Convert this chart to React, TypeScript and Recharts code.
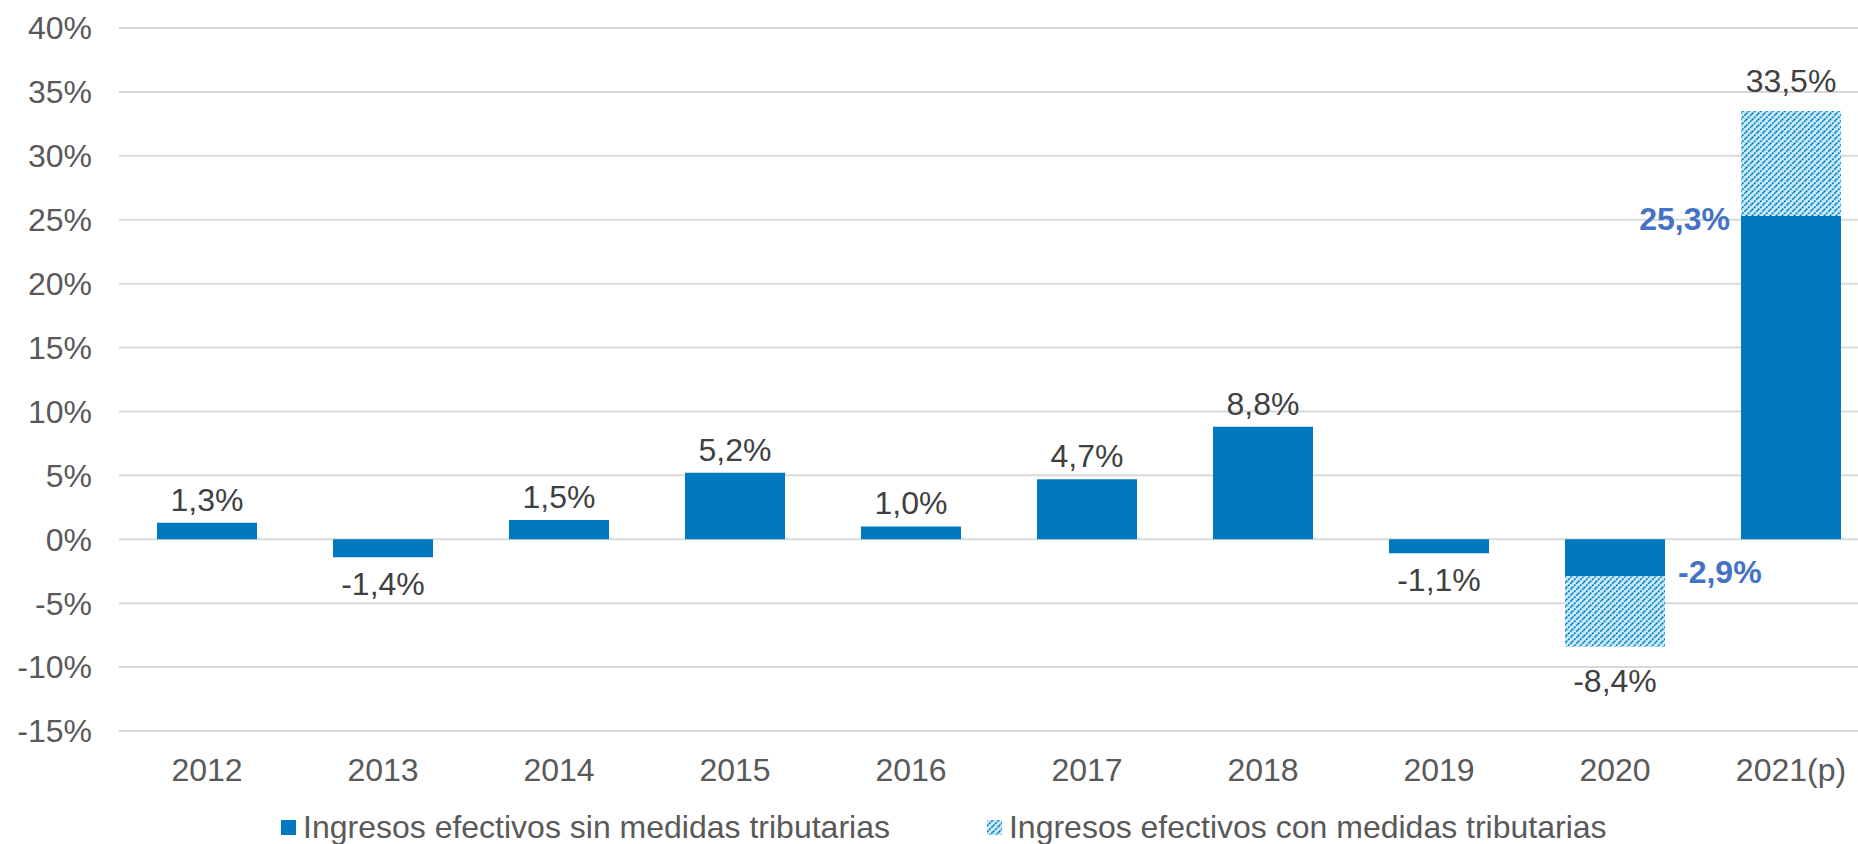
import { Bar, BarChart, CartesianGrid, LabelList, Legend, XAxis, YAxis } from "recharts";

const years = ["2012", "2013", "2014", "2015", "2016", "2017", "2018", "2019", "2020", "2021(p)"];
// growth without tax measures
const sinMedidas = [1.3, -1.4, 1.5, 5.2, 1.0, 4.7, 8.8, -1.1, -2.9, 25.3];
// total growth with tax measures (only shown for 2020 and 2021)
const conMedidas = [null, null, null, null, null, null, null, null, -8.4, 33.5];
const yTicks = [-15, -10, -5, 0, 5, 10, 15, 20, 25, 30, 35, 40];

const data = years.map((year, i) => ({
  year,
  sin: sinMedidas[i],
  extra: conMedidas[i] == null ? 0 : +(conMedidas[i]! - sinMedidas[i]).toFixed(1),
}));

const BLUE = "#0079c1";
const HATCH_BG = "#c6eafa";
const GRAY = "#595959";
const DARK = "#404040";
const LABEL_BLUE = "#4472c4";
const FONT = "'Liberation Sans', Arial, sans-serif";

const fmt = (v: number) => `${v.toFixed(1).replace(".", ",")}%`;

function HatchDef({ id }: { id: string }) {
  return (
    <pattern id={id} width={6} height={6} patternUnits="userSpaceOnUse">
      <rect width={6} height={6} fill={HATCH_BG} />
      <path d="M-1,1 l2,-2 M0,6 l6,-6 M5,7 l2,-2" stroke={BLUE} strokeWidth={1.5} strokeDasharray="2 1" />
    </pattern>
  );
}

function BarLabels(props: any) {
  const { x, y, width, height, value, index } = props;
  if (value == null || !value) return null;
  const top = Math.min(y, y + height);
  const bottom = Math.max(y, y + height);
  const cx = x + width / 2;
  const total = conMedidas[index];

  if (total == null) {
    return (
      <text
        x={cx}
        y={value < 0 ? bottom + 15 : top - 12}
        dy={value < 0 ? "0.71em" : 0}
        textAnchor="middle"
        fill={DARK}
        fontFamily={FONT}
        fontSize={32}
      >
        {fmt(value)}
      </text>
    );
  }

  // stacked years: bold label beside the solid part, total label past the hatched part
  const zeroY = value < 0 ? top : bottom;
  const pxPerUnit = (bottom - top) / Math.abs(value);
  const totalY = zeroY - total * pxPerUnit;
  const edge = value < 0 ? bottom : top;
  return (
    <g>
      <text
        x={value < 0 ? x + width + 13 : x - 11}
        y={value < 0 ? edge - 5 : edge + 3}
        dy="0.355em"
        textAnchor={value < 0 ? "start" : "end"}
        fill={LABEL_BLUE}
        fontFamily={FONT}
        fontSize={32}
        fontWeight="bold"
      >
        {fmt(value)}
      </text>
      <text
        x={cx}
        y={total < 0 ? totalY + 23 : totalY - 19}
        dy={total < 0 ? "0.71em" : 0}
        textAnchor="middle"
        fill={DARK}
        fontFamily={FONT}
        fontSize={32}
      >
        {fmt(total)}
      </text>
    </g>
  );
}

function LegendContent() {
  const item = (swatch: React.ReactNode, text: string, gap: number) => (
    <div style={{ display: "flex", alignItems: "center", marginRight: gap }}>
      {swatch}
      <span style={{ marginLeft: 7, color: GRAY, fontFamily: FONT, fontSize: 32, whiteSpace: "nowrap" }}>{text}</span>
    </div>
  );
  return (
    <div style={{ display: "flex", alignItems: "center" }}>
      {item(<div style={{ width: 15, height: 15, background: BLUE }} />, "Ingresos efectivos sin medidas tributarias", 97)}
      {item(
        <svg width={15} height={15}>
          <defs>
            <HatchDef id="hatchLegend" />
          </defs>
          <rect width={15} height={15} fill="url(#hatchLegend)" />
        </svg>,
        "Ingresos efectivos con medidas tributarias",
        0,
      )}
    </div>
  );
}

export default function App() {
  return (
    <div style={{ position: "absolute", left: 0, top: 0, background: "#fff" }}>
      <BarChart
        width={1858}
        height={844}
        data={data}
        margin={{ top: 28, right: -21, bottom: 0, left: 0 }}
        stackOffset="sign"
        barSize={100}
      >
        <defs>
          <HatchDef id="hatchBar" />
        </defs>
        <CartesianGrid vertical={false} stroke="#d9d9d9" strokeWidth={2} />
        <XAxis
          dataKey="year"
          axisLine={false}
          tickLine={false}
          tickMargin={21}
          height={113}
          interval={0}
          tick={{ fill: GRAY, fontSize: 32, fontFamily: FONT }}
        />
        <YAxis
          domain={[-15, 40]}
          ticks={yTicks}
          width={119}
          axisLine={false}
          tickLine={false}
          tickMargin={21}
          tickFormatter={(v: number) => `${v}%`}
          tick={{ fill: GRAY, fontSize: 32, fontFamily: FONT }}
        />
        <Legend
          verticalAlign="middle"
          align="center"
          layout="horizontal"
          content={<LegendContent />}
          wrapperStyle={{ top: 809, left: 281, width: "auto" }}
        />
        <Bar dataKey="sin" stackId="a" fill={BLUE} isAnimationActive={false}>
          <LabelList dataKey="sin" content={<BarLabels />} />
        </Bar>
        <Bar dataKey="extra" stackId="a" fill="url(#hatchBar)" isAnimationActive={false} />
      </BarChart>
    </div>
  );
}
